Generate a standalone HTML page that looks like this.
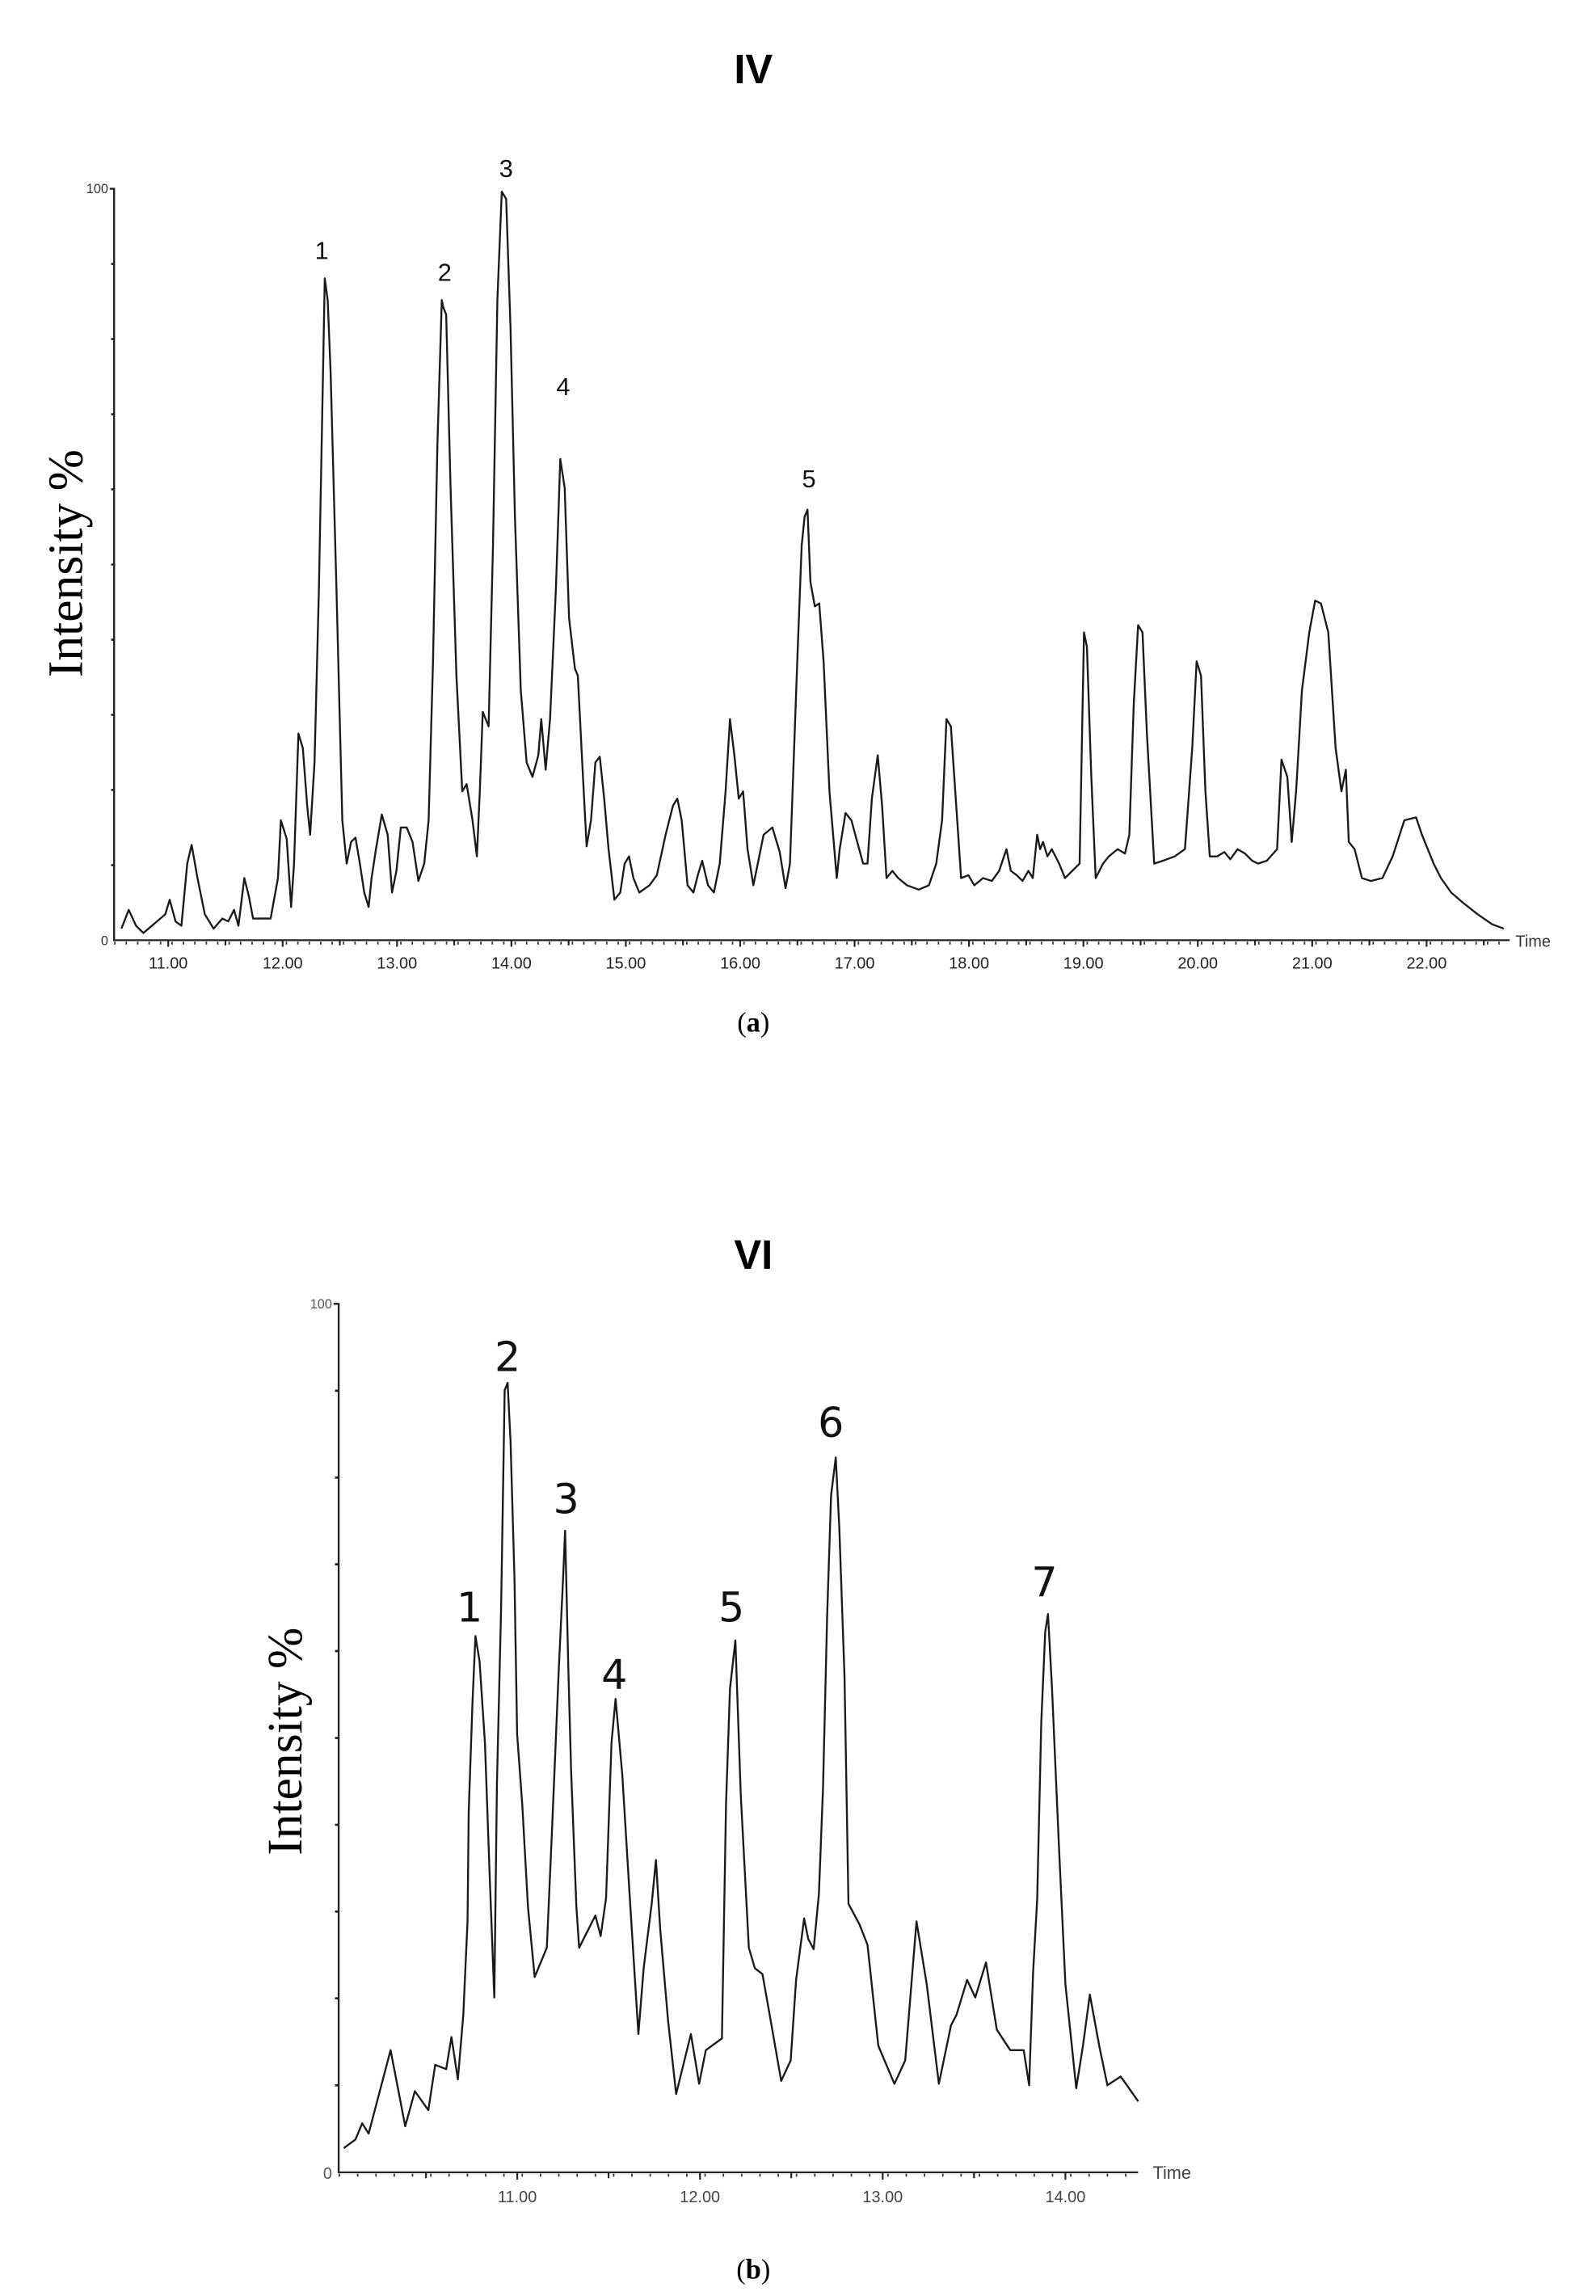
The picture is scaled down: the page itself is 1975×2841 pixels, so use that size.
<!DOCTYPE html>
<html><head><meta charset="utf-8"><style>html,body{margin:0;padding:0;background:#fff}svg{display:block}</style></head>
<body>
<svg width="1975" height="2841" viewBox="0 0 1091 1569" preserveAspectRatio="none" xmlns="http://www.w3.org/2000/svg">
<rect width="1091" height="1569" fill="#fff"/>
<!-- Plot (a) -->
<text x="515" y="57" font-family="Liberation Sans, sans-serif" font-weight="bold" font-size="28" text-anchor="middle">IV</text>
<text transform="translate(56,385) rotate(-90)" font-family="Liberation Serif, serif" font-size="34" text-anchor="middle">Intensity %</text>
<text x="74" y="132" font-family="Liberation Sans, sans-serif" font-size="9" text-anchor="end" fill="#333">100</text>
<text x="74" y="646" font-family="Liberation Sans, sans-serif" font-size="9" text-anchor="end" fill="#333">0</text>
<path d="M75,129 H78 V642.5 H1032" fill="none" stroke="#222" stroke-width="1.3"/>
<path d="M76,180.4h2M76,231.7h2M76,283.1h2M76,334.4h2M76,385.8h2M76,437.1h2M76,488.5h2M76,539.8h2M76,591.2h2" stroke="#222" stroke-width="1.5"/>
<g font-family="Liberation Sans, sans-serif" font-size="11" fill="#222" text-anchor="middle">
<text x="115" y="662">11.00</text><text x="193.2" y="662">12.00</text><text x="271.4" y="662">13.00</text><text x="349.6" y="662">14.00</text><text x="427.8" y="662">15.00</text><text x="506" y="662">16.00</text><text x="584.2" y="662">17.00</text><text x="662.4" y="662">18.00</text><text x="740.6" y="662">19.00</text><text x="818.8" y="662">20.00</text><text x="897" y="662">21.00</text><text x="975.2" y="662">22.00</text>
</g>
<text x="1036" y="647" font-family="Liberation Sans, sans-serif" font-size="11" fill="#333">Time</text>
<g font-family="Liberation Sans, sans-serif" font-size="17" text-anchor="middle" fill="#111">
<text x="220" y="177">1</text><text x="304" y="192">2</text><text x="346" y="121">3</text><text x="385" y="270">4</text><text x="553" y="333">5</text>
</g>
<text x="515" y="705" font-family="Liberation Serif, serif" font-size="19" text-anchor="middle">(<tspan font-weight="bold">a</tspan>)</text>
<g transform="translate(0,642.5) scale(1,0.9875) translate(0,-643)">
<polyline fill="none" stroke="#1a1a1a" stroke-width="1.3" stroke-linejoin="round" points="83,635 88,622 93,633 98,638 105,632 113,625 116,615 120,630 124,633 128,590 131,577 135,600 140,625 146,635 152,628 156,630 160,622 163,633 167,600 170,612 173,628 180,628 185,628 190,600 192,560 196,573 199,620 201,590 204,500 207,510 210,550 212,570 215,520 218,400 221,240 222,185 224,200 226,250 230,400 234,560 237,590 240,575 243,572 246,590 249,610 252,620 254,600 257,580 261,556 265,570 268,610 271,595 274,565 278,565 282,575 286,602 290,590 293,560 296,450 299,300 302,200 303,205 305,210 308,330 312,460 316,540 319,535 323,560 326,585 328,540 330,485 332,490 334,495 337,370 340,200 343,125 346,130 349,220 352,350 356,470 360,520 364,530 368,515 370,490 373,525 376,490 380,400 383,310 386,330 389,420 393,455 395,460 398,520 401,578 404,560 407,520 410,516 413,545 416,580 420,615 424,610 427,590 430,585 433,600 437,610 444,605 449,598 455,570 460,550 463,545 466,560 470,605 474,610 477,598 480,588 484,605 488,610 492,590 496,540 499,490 502,515 505,545 508,540 511,580 515,605 518,590 522,570 528,565 533,582 537,607 540,590 545,450 548,370 550,350 552,345 554,395 557,412 560,410 563,450 567,540 572,600 574,580 578,555 582,560 586,575 590,590 593,590 596,545 600,515 603,550 606,600 610,595 614,600 620,605 628,608 635,605 640,590 644,560 647,490 650,495 653,540 657,600 662,598 666,605 672,600 678,602 683,595 688,580 691,595 695,598 699,602 703,595 706,600 709,570 711,580 713,575 716,585 719,580 724,590 728,600 733,595 738,590 741,430 743,440 746,530 749,600 754,590 758,585 764,580 769,583 772,570 775,480 778,425 781,430 784,500 789,590 795,588 803,585 810,580 815,510 818,450 821,460 824,540 827,585 832,585 837,582 841,587 846,580 851,583 856,588 860,590 866,588 873,580 876,518 880,530 883,575 886,540 890,470 895,430 899,408 903,410 908,430 913,510 917,540 920,525 922,575 926,580 931,600 937,602 945,600 952,585 960,560 968,558 972,570 980,590 985,600 992,610 1000,617 1010,625 1020,632 1028,635"/>
</g>
<g stroke="#222" stroke-width="1.2">
<path d="M115,642 v5 M193.2,642 v5 M271.4,642 v5 M349.6,642 v5 M427.8,642 v5 M506,642 v5 M584.2,642 v5 M662.4,642 v5 M740.6,642 v5 M818.8,642 v5 M897,642 v5 M975.2,642 v5 M154.1,642 v4 M232.3,642 v4 M310.5,642 v4 M388.7,642 v4 M466.9,642 v4 M545.1,642 v4 M623.3,642 v4 M701.5,642 v4 M779.7,642 v4 M857.9,642 v4 M936.1,642 v4 M1014.3,642 v4"/>
</g>
<line x1="78" y1="644.5" x2="1032" y2="644.5" stroke="#333" stroke-width="2" stroke-dasharray="1 6.82"/>

<!-- Plot (b) -->
<text x="515" y="867" font-family="Liberation Sans, sans-serif" font-weight="bold" font-size="28" text-anchor="middle">VI</text>
<text transform="translate(206,1190) rotate(-90)" font-family="Liberation Serif, serif" font-size="34" text-anchor="middle">Intensity %</text>
<text x="227" y="894" font-family="Liberation Sans, sans-serif" font-size="9" text-anchor="end" fill="#555">100</text>
<text x="227" y="1489" font-family="Liberation Sans, sans-serif" font-size="11" text-anchor="end" fill="#555">0</text>
<path d="M228,891 H231.5 V1484.5 H778" fill="none" stroke="#222" stroke-width="1.3"/>
<path d="M229,950.4h2.5M229,1009.7h2.5M229,1069h2.5M229,1128.3h2.5M229,1187.7h2.5M229,1247h2.5M229,1306.3h2.5M229,1365.6h2.5M229,1425h2.5" stroke="#222" stroke-width="1.5"/>
<g stroke="#222" stroke-width="1.2">
<path d="M353.6,1484.5 v5 M478.5,1484.5 v5 M603.4,1484.5 v5 M728.3,1484.5 v5 M291.2,1484.5 v4 M416,1484.5 v4 M540.9,1484.5 v4 M665.8,1484.5 v4"/>
</g>
<line x1="231.5" y1="1486.5" x2="778" y2="1486.5" stroke="#333" stroke-width="2" stroke-dasharray="1 11.5"/>
<g font-family="Liberation Sans, sans-serif" font-size="11" fill="#444" text-anchor="middle">
<text x="353.6" y="1505">11.00</text><text x="478.5" y="1505">12.00</text><text x="603.4" y="1505">13.00</text><text x="728.3" y="1505">14.00</text>
</g>
<text x="788" y="1489" font-family="Liberation Sans, sans-serif" font-size="12" fill="#444">Time</text>
<g font-family="DejaVu Sans, Liberation Sans, sans-serif" font-size="28" text-anchor="middle" fill="#111">
<text x="321" y="1108">1</text><text x="347" y="937">2</text><text x="387" y="1034">3</text><text x="420" y="1154">4</text><text x="500" y="1108">5</text><text x="568" y="982">6</text><text x="714" y="1091">7</text>
</g>
<text x="515" y="1557" font-family="Liberation Serif, serif" font-size="19" text-anchor="middle">(<tspan font-weight="bold">b</tspan>)</text>
<polyline fill="none" stroke="#1a1a1a" stroke-width="1.3" stroke-linejoin="round" points="235,1468 243,1462 247.6,1451 252,1458 267,1401 277,1453 283.6,1429 292.8,1442 297.5,1411 305,1414 308.6,1392 313,1421 316.7,1377 319.6,1313 320.4,1238 323,1163 325,1118 327.8,1135 331.5,1191 335,1289 337.9,1365 339.7,1219 342.5,1101 345,950 347,945 349,985 351.7,1079 353.5,1185 357,1233 360.9,1303 365.5,1351 373.8,1331 377.5,1247 382,1140 384.9,1079 386.3,1046 388.5,1140 390.4,1210 394,1303 395.9,1331 407,1309 410.6,1323 414.3,1297 418,1191 420.8,1161 425.4,1213 430.9,1303 436.4,1390 440,1345 445.6,1300 448.4,1271 451.2,1317 456.7,1381 462.2,1431 472.3,1390 477.9,1424 482.5,1401 493.5,1393 496.3,1233 499,1154 502.7,1121 506.4,1227 511.9,1331 516,1345 521.2,1349 526.7,1380 534,1422 540.5,1408 544.2,1353 549.7,1311 552.5,1325 556.2,1332 559.8,1294 562.6,1222 565.4,1105 568.1,1022 571.3,996 573.7,1043 577.3,1146 580,1301 587.5,1315 593,1329 600.4,1398 611.4,1424 618.8,1408 626.5,1313 633.5,1356 641.8,1424 650.1,1384 653.8,1377 661.1,1353 666.7,1365 674,1341 681.4,1387 690.6,1401 699.8,1401 703.5,1425 706.2,1348 709,1298 711.8,1177 714.5,1115 716.4,1103 719.1,1153 723.8,1260 728.3,1356 735.7,1427 740.3,1398 745,1363 751.4,1398 757,1425 766.1,1419 778.1,1436"/>
</svg>
</body></html>
